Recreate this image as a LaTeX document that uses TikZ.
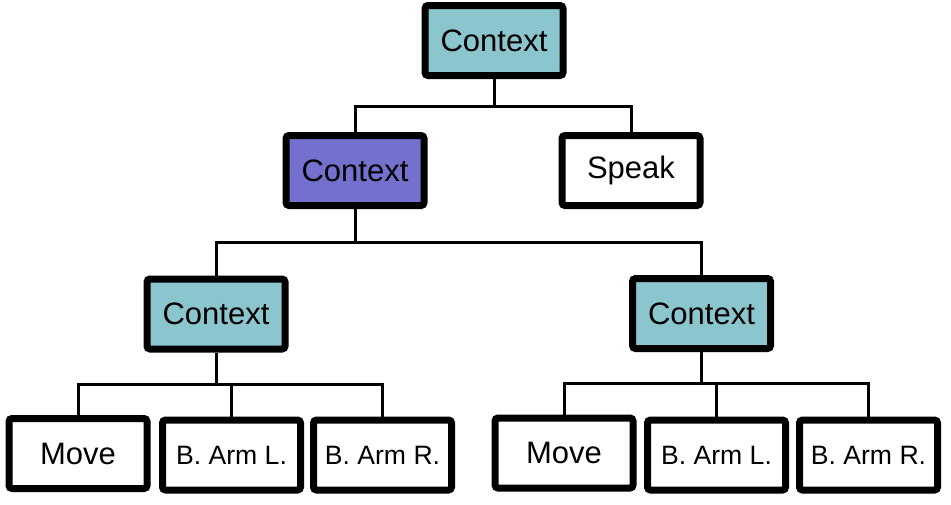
\documentclass[tikz,border=0pt]{standalone}
\usepackage{fontspec}
\setmainfont{Liberation Sans}
\definecolor{ctxteal}{RGB}{139,198,206}
\definecolor{ctxpurple}{RGB}{116,112,206}
\begin{document}
\begin{tikzpicture}[x=0.5pt,y=0.5pt]
        \tikzstyle{box}=[draw=black, line width=3.5pt, rounded corners=1.5pt, fill=white, minimum width=69pt, minimum height=35pt, inner sep=0pt, font=\fontsize{15.5}{18}\selectfont]
        \tikzstyle{ctx}=[box, fill=ctxteal]
        \tikzstyle{small}=[font=\fontsize{13.3}{16}\selectfont]
        \tikzstyle{wire}=[black, line width=1.5pt]
        \useasboundingbox (0,0) rectangle (951,-504);
        \node [ctx] (top) at (494,-40.5) {Context};
        \node [ctx, fill=ctxpurple] (ctxm) at (355,-170.5) {Context};
        \node [box] (speak) at (631,-170.5) {Speak};
        \node [ctx] (ctxl) at (216,-314) {Context};
        \node [ctx] (ctxr) at (701.5,-313.5) {Context};
        \node [box] (movel) at (78,-453.5) {Move};
        \node [box, small] (arml1) at (231.5,-455) {B. Arm L.};
        \node [box, small] (arml2) at (382.5,-455) {B. Arm R.};
        \node [box] (mover) at (564,-453) {Move};
        \node [box, small] (armr1) at (716.5,-455) {B. Arm L.};
        \node [box, small] (armr2) at (868.5,-455) {B. Arm R.};
        \coordinate (bus1) at (494,-106);
        \coordinate (bus2) at (355,-242);
        \coordinate (bus3) at (216,-384);
        \coordinate (bus4) at (701.5,-383);
        \draw [wire] (top.south) -- (bus1) -| (ctxm.north);
        \draw [wire] (bus1) -| (speak.north);
        \draw [wire] (ctxm.south) -- (bus2) -| (ctxl.north);
        \draw [wire] (bus2) -| (ctxr.north);
        \draw [wire] (ctxl.south) -- (bus3) -| (movel.north);
        \draw [wire] (bus3) -| (arml1.north);
        \draw [wire] (bus3) -| (arml2.north);
        \draw [wire] (ctxr.south) -- (bus4) -| (mover.north);
        \draw [wire] (bus4) -| (armr1.north);
        \draw [wire] (bus4) -| (armr2.north);
\end{tikzpicture}
\end{document}
